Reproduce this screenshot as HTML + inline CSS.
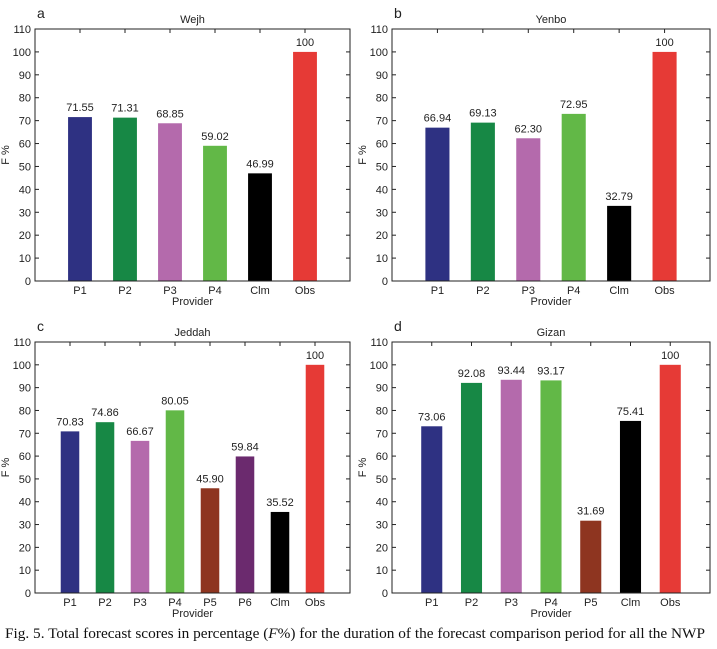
<!DOCTYPE html>
<html><head><meta charset="utf-8"><style>
body{margin:0;background:#fff;width:717px;height:649px;overflow:hidden}
svg{display:block}
text{font-family:"Liberation Sans",Arial,sans-serif;fill:#222}
</style></head><body>
<svg id="s" width="717" height="649">
<text x="5" y="638" textLength="700" lengthAdjust="spacingAndGlyphs" style="font-family:'Liberation Serif',serif;font-size:15px;fill:#111">Fig. 5. Total forecast scores in percentage (<tspan font-style="italic">F</tspan>%) for the duration of the forecast comparison period for all the NWP</text>
</svg>
<script>
const catsA=["P1","P2","P3","P4","Clm","Obs"];
const valsA=[71.55,71.31,68.85,59.02,46.99,100];
const labsA=["71.55","71.31","68.85","59.02","46.99","100"];
const catsB=["P1","P2","P3","P4","Clm","Obs"];
const valsB=[66.94,69.13,62.30,72.95,32.79,100];
const labsB=["66.94","69.13","62.30","72.95","32.79","100"];
const catsC=["P1","P2","P3","P4","P5","P6","Clm","Obs"];
const valsC=[70.83,74.86,66.67,80.05,45.90,59.84,35.52,100];
const labsC=["70.83","74.86","66.67","80.05","45.90","59.84","35.52","100"];
const catsD=["P1","P2","P3","P4","P5","Clm","Obs"];
const valsD=[73.06,92.08,93.44,93.17,31.69,75.41,100];
const labsD=["73.06","92.08","93.44","93.17","31.69","75.41","100"];
const yTicks=[0,10,20,30,40,50,60,70,80,90,100,110];
const colorMap={P1:"#2e3182",P2:"#178845",P3:"#b46aac",P4:"#62b847",P5:"#8e3520",P6:"#6b2a6e",Clm:"#000000",Obs:"#e63a36"};
const NS="http://www.w3.org/2000/svg";
const svg=document.getElementById('s');
function mk(tag,attrs,parent){const e=document.createElementNS(NS,tag);for(const k in attrs)e.setAttribute(k,attrs[k]);(parent||svg).appendChild(e);return e;}
function panel(id,letter,title,cats,vals,labs,L,R,T,B){
  const g=mk('g',{});
  
  
  const y=v=>B-(v/110)*(B-T);
  const slot=(R-L)/(cats.length+1);
  const x=i=>L+slot*(i+1);
  const bw=slot*0.53;
  const lt=mk('text',{x:L+2,y:T-11,'font-size':14},g);lt.textContent=letter;
  
  
  const tt=mk('text',{x:(L+R)/2,y:T-6,'font-size':11,'text-anchor':'middle'},g);tt.textContent=title;
  
  
  yTicks.forEach(v=>{
    mk('line',{x1:L,x2:L+4,y1:y(v),y2:y(v),stroke:'#222','stroke-width':1},g);
    mk('line',{x1:R-4,x2:R,y1:y(v),y2:y(v),stroke:'#222','stroke-width':1},g);
    const t=mk('text',{x:L-4,y:y(v)+4,'font-size':11,'text-anchor':'end'},g);t.textContent=v;
    
    
  });
  cats.forEach((c,i)=>{
    const xc=x(i);
    mk('line',{x1:xc,x2:xc,y1:T,y2:T+4,stroke:'#222'},g);
    const r=mk('rect',{x:xc-bw/2,y:y(vals[i]),width:bw,height:B-y(vals[i]),fill:colorMap[c]},g);
    
    
    const vl=mk('text',{x:xc,y:y(vals[i])-6,'font-size':11,'text-anchor':'middle'},g);vl.textContent=labs[i];
    
    
    const cl=mk('text',{x:xc,y:B+13,'font-size':11,'text-anchor':'middle'},g);cl.textContent=c;
    
    
  });
  const box=mk('rect',{x:L,y:T,width:R-L,height:B-T,fill:'none',stroke:'#222','stroke-width':1},g);
  
  
  const xt=mk('text',{x:(L+R)/2,y:B+24,'font-size':11,'text-anchor':'middle'},g);xt.textContent='Provider';
  
  
  const yx=L-26,yy=(T+B)/2;
  const yt=mk('text',{x:yx,y:yy,'font-size':11,'text-anchor':'middle',transform:`rotate(-90 ${yx} ${yy})`},g);yt.textContent='F %';
  
  
}
panel('a','a','Wejh',catsA,valsA,labsA,35,350,29,281);
panel('b','b','Yenbo',catsB,valsB,labsB,392,710,29,281);
panel('c','c','Jeddah',catsC,valsC,labsC,35,350,342,593);
panel('d','d','Gizan',catsD,valsD,labsD,392,710,342,593);
</script>
</body></html>
